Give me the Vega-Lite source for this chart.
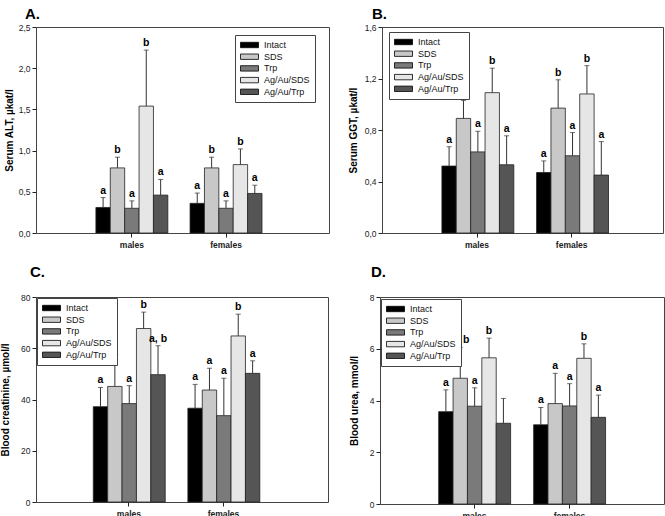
{
  "$schema": "https://vega.github.io/schema/vega-lite/v6.json",
  "padding": {"left": 0, "top": 6, "right": 0, "bottom": 0},
  "config": {
    "font": "Liberation Sans",
    "view": {"stroke": "#444", "strokeWidth": 1},
    "axis": {"grid": false, "domain": false, "tickColor": "#222", "labelColor": "#222", "titleColor": "#000", "labelFont": "Liberation Sans", "titleFont": "Liberation Sans", "labelOverlap": false},
    "title": {"font": "Liberation Sans", "fontSize": 15, "fontWeight": "bold", "anchor": "start", "frame": "group", "color": "#000"},
    "legend": {"title": null, "orient": "none", "symbolType": "M-1,-0.6H3V0.6H-1Z", "symbolSize": 81, "symbolStrokeColor": "#000", "symbolStrokeWidth": 0.8, "labelFontSize": 9, "labelOffset": 14, "rowPadding": 1.7, "padding": 5, "strokeColor": "#444", "fillColor": "#fff", "labelColor": "#111", "symbolOpacity": 1}
  },
  "datasets": {
    "d": [
      {"panel": "A", "sex": "males", "group": "Intact", "value": 0.31, "upper": 0.43, "lab": "a"},
      {"panel": "A", "sex": "males", "group": "SDS", "value": 0.79, "upper": 0.92, "lab": "b"},
      {"panel": "A", "sex": "males", "group": "Trp", "value": 0.30, "upper": 0.39, "lab": "a"},
      {"panel": "A", "sex": "males", "group": "Ag/Au/SDS", "value": 1.54, "upper": 2.22, "lab": "b"},
      {"panel": "A", "sex": "males", "group": "Ag/Au/Trp", "value": 0.46, "upper": 0.65, "lab": "a"},
      {"panel": "A", "sex": "females", "group": "Intact", "value": 0.36, "upper": 0.485, "lab": "a"},
      {"panel": "A", "sex": "females", "group": "SDS", "value": 0.79, "upper": 0.92, "lab": "b"},
      {"panel": "A", "sex": "females", "group": "Trp", "value": 0.30, "upper": 0.39, "lab": "a"},
      {"panel": "A", "sex": "females", "group": "Ag/Au/SDS", "value": 0.83, "upper": 1.02, "lab": "b"},
      {"panel": "A", "sex": "females", "group": "Ag/Au/Trp", "value": 0.48, "upper": 0.58, "lab": "a"},
      {"panel": "B", "sex": "males", "group": "Intact", "value": 0.52, "upper": 0.67, "lab": "a"},
      {"panel": "B", "sex": "males", "group": "SDS", "value": 0.89, "upper": 1.03, "lab": "b"},
      {"panel": "B", "sex": "males", "group": "Trp", "value": 0.63, "upper": 0.79, "lab": "a"},
      {"panel": "B", "sex": "males", "group": "Ag/Au/SDS", "value": 1.09, "upper": 1.28, "lab": "b"},
      {"panel": "B", "sex": "males", "group": "Ag/Au/Trp", "value": 0.53, "upper": 0.755, "lab": "a"},
      {"panel": "B", "sex": "females", "group": "Intact", "value": 0.47, "upper": 0.56, "lab": "a"},
      {"panel": "B", "sex": "females", "group": "SDS", "value": 0.97, "upper": 1.19, "lab": "b"},
      {"panel": "B", "sex": "females", "group": "Trp", "value": 0.60, "upper": 0.78, "lab": "a"},
      {"panel": "B", "sex": "females", "group": "Ag/Au/SDS", "value": 1.08, "upper": 1.30, "lab": "b"},
      {"panel": "B", "sex": "females", "group": "Ag/Au/Trp", "value": 0.45, "upper": 0.71, "lab": "a"},
      {"panel": "C", "sex": "males", "group": "Intact", "value": 37.2, "upper": 44.7, "lab": "a"},
      {"panel": "C", "sex": "males", "group": "SDS", "value": 45.1, "upper": 55.7, "lab": "a"},
      {"panel": "C", "sex": "males", "group": "Trp", "value": 38.4, "upper": 45.4, "lab": "a"},
      {"panel": "C", "sex": "males", "group": "Ag/Au/SDS", "value": 67.7, "upper": 74.1, "lab": "b"},
      {"panel": "C", "sex": "males", "group": "Ag/Au/Trp", "value": 49.7, "upper": 61.0, "lab": "a, b"},
      {"panel": "C", "sex": "females", "group": "Intact", "value": 36.6, "upper": 45.9, "lab": "a"},
      {"panel": "C", "sex": "females", "group": "SDS", "value": 43.7, "upper": 52.2, "lab": "a"},
      {"panel": "C", "sex": "females", "group": "Trp", "value": 33.7, "upper": 48.3, "lab": "a"},
      {"panel": "C", "sex": "females", "group": "Ag/Au/SDS", "value": 64.8, "upper": 73.3, "lab": "b"},
      {"panel": "C", "sex": "females", "group": "Ag/Au/Trp", "value": 50.2, "upper": 55.1, "lab": "a"},
      {"panel": "D", "sex": "males", "group": "Intact", "value": 3.57, "upper": 4.41, "lab": "a"},
      {"panel": "D", "sex": "males", "group": "SDS", "value": 4.86, "upper": 6.05, "lab": "a, b"},
      {"panel": "D", "sex": "males", "group": "Trp", "value": 3.78, "upper": 4.49, "lab": "a"},
      {"panel": "D", "sex": "males", "group": "Ag/Au/SDS", "value": 5.65, "upper": 6.41, "lab": "b"},
      {"panel": "D", "sex": "males", "group": "Ag/Au/Trp", "value": 3.12, "upper": 4.08, "lab": ""},
      {"panel": "D", "sex": "females", "group": "Intact", "value": 3.06, "upper": 3.73, "lab": "a"},
      {"panel": "D", "sex": "females", "group": "SDS", "value": 3.88, "upper": 5.05, "lab": "a"},
      {"panel": "D", "sex": "females", "group": "Trp", "value": 3.79, "upper": 4.65, "lab": "a"},
      {"panel": "D", "sex": "females", "group": "Ag/Au/SDS", "value": 5.63, "upper": 6.19, "lab": "b"},
      {"panel": "D", "sex": "females", "group": "Ag/Au/Trp", "value": 3.35, "upper": 4.21, "lab": "a"}
    ]
  },
  "data": {"name": "d"},
  "resolve": {"scale": {"fill": "independent"}, "legend": {"fill": "independent"}},
  "spacing": 15,
  "vconcat": [
    {
      "spacing": 17,
      "resolve": {"scale": {"fill": "independent"}, "legend": {"fill": "independent"}},
      "hconcat": [
        {
          "width": 293, "height": 206,
          "title": {"text": "A.", "dx": -11, "offset": 1},
          "transform": [{"filter": "datum.panel == 'A'"}],
          "encoding": {
            "x": {"field": "sex", "type": "nominal", "sort": ["males", "females"], "scale": {"paddingInner": 0.236, "paddingOuter": 0.674, "align": 0.472}, "axis": {"title": null, "labelAngle": 0, "labelFontWeight": "bold", "labelFontSize": 8.5, "tickSize": 4, "labelPadding": 3}},
            "xOffset": {"field": "group", "type": "nominal", "sort": ["Intact", "SDS", "Trp", "Ag/Au/SDS", "Ag/Au/Trp"], "scale": {"paddingInner": 0, "paddingOuter": 0}}
          },
          "layer": [
            {"mark": {"type": "bar", "stroke": "#222", "strokeWidth": 0.8},
             "encoding": {
               "y": {"field": "value", "type": "quantitative", "scale": {"domain": [0, 2.5], "nice": false}, "axis": {"title": "Serum ALT, µkat/l", "titleFontWeight": "bold", "titleFontSize": 10, "titlePadding": 4, "values": [0, 0.5, 1, 1.5, 2, 2.5], "labelExpr": "replace(format(datum.value, '.1f'), '.', ',')", "labelFontSize": 8.5, "tickSize": 4}},
               "fill": {"field": "group", "type": "nominal", "sort": ["Intact", "SDS", "Trp", "Ag/Au/SDS", "Ag/Au/Trp"], "scale": {"domain": ["Intact", "SDS", "Trp", "Ag/Au/SDS", "Ag/Au/Trp"], "range": ["#000000", "#c8c8c8", "#7a7a7a", "#e6e6e6", "#555555"]},
                 "legend": {"legendX": 199, "legendY": 8}}
             }},
            {"mark": {"type": "rule", "color": "#333", "strokeWidth": 1}, "encoding": {"y": {"field": "value", "type": "quantitative"}, "y2": {"field": "upper"}}},
            {"mark": {"type": "tick", "color": "#333", "size": 5, "thickness": 1}, "encoding": {"y": {"field": "upper", "type": "quantitative"}}},
            {"mark": {"type": "text", "fontWeight": "bold", "fontSize": 10.5, "dy": -4, "baseline": "alphabetic", "color": "#000"}, "encoding": {"y": {"field": "upper", "type": "quantitative"}, "text": {"field": "lab"}}}
          ]
        },
        {
          "width": 281, "height": 206,
          "title": {"text": "B.", "dx": -10, "offset": 1},
          "transform": [{"filter": "datum.panel == 'B'"}],
          "encoding": {
            "x": {"field": "sex", "type": "nominal", "sort": ["males", "females"], "scale": {"paddingInner": 0.258, "paddingOuter": 0.613, "align": 0.516}, "axis": {"title": null, "labelAngle": 0, "labelFontWeight": "bold", "labelFontSize": 8.5, "tickSize": 4, "labelPadding": 3}},
            "xOffset": {"field": "group", "type": "nominal", "sort": ["Intact", "SDS", "Trp", "Ag/Au/SDS", "Ag/Au/Trp"], "scale": {"paddingInner": 0, "paddingOuter": 0}}
          },
          "layer": [
            {"mark": {"type": "bar", "stroke": "#222", "strokeWidth": 0.8},
             "encoding": {
               "y": {"field": "value", "type": "quantitative", "scale": {"domain": [0, 1.6], "nice": false}, "axis": {"title": "Serum GGT, µkat/l", "titleFontWeight": "bold", "titleFontSize": 10, "titlePadding": 6, "values": [0, 0.2, 0.4, 0.6, 0.8, 1, 1.2, 1.4, 1.6], "labelExpr": "replace(format(datum.value, '.1f'), '.', ',')", "labelFontSize": 8.5, "tickSize": 4}},
               "fill": {"field": "group", "type": "nominal", "sort": ["Intact", "SDS", "Trp", "Ag/Au/SDS", "Ag/Au/Trp"], "scale": {"domain": ["Intact", "SDS", "Trp", "Ag/Au/SDS", "Ag/Au/Trp"], "range": ["#000000", "#c8c8c8", "#7a7a7a", "#e6e6e6", "#555555"]},
                 "legend": {"legendX": 7, "legendY": 5}}
             }},
            {"mark": {"type": "rule", "color": "#333", "strokeWidth": 1}, "encoding": {"y": {"field": "value", "type": "quantitative"}, "y2": {"field": "upper"}}},
            {"mark": {"type": "tick", "color": "#333", "size": 5, "thickness": 1}, "encoding": {"y": {"field": "upper", "type": "quantitative"}}},
            {"mark": {"type": "text", "fontWeight": "bold", "fontSize": 10.5, "dy": -4, "baseline": "alphabetic", "color": "#000"}, "encoding": {"y": {"field": "upper", "type": "quantitative"}, "text": {"field": "lab"}}}
          ]
        }
      ]
    },
    {
      "spacing": 19,
      "resolve": {"scale": {"fill": "independent"}, "legend": {"fill": "independent"}},
      "hconcat": [
        {
          "width": 292, "height": 205,
          "title": {"text": "C.", "dx": -6, "offset": 13},
          "transform": [{"filter": "datum.panel == 'C'"}],
          "encoding": {
            "x": {"field": "sex", "type": "nominal", "sort": ["males", "females"], "scale": {"paddingInner": 0.247, "paddingOuter": 0.667, "align": 0.454}, "axis": {"title": null, "labelAngle": 0, "labelFontWeight": "bold", "labelFontSize": 8.5, "tickSize": 4, "labelPadding": 3}},
            "xOffset": {"field": "group", "type": "nominal", "sort": ["Intact", "SDS", "Trp", "Ag/Au/SDS", "Ag/Au/Trp"], "scale": {"paddingInner": 0, "paddingOuter": 0}}
          },
          "layer": [
            {"mark": {"type": "bar", "stroke": "#222", "strokeWidth": 0.8},
             "encoding": {
               "y": {"field": "value", "type": "quantitative", "scale": {"domain": [0, 80], "nice": false}, "axis": {"title": "Blood creatinine, µmol/l", "titleFontWeight": "bold", "titleFontSize": 10, "titlePadding": 10, "values": [0, 20, 40, 60, 80], "labelFontSize": 8.5, "tickSize": 4}},
               "fill": {"field": "group", "type": "nominal", "sort": ["Intact", "SDS", "Trp", "Ag/Au/SDS", "Ag/Au/Trp"], "scale": {"domain": ["Intact", "SDS", "Trp", "Ag/Au/SDS", "Ag/Au/Trp"], "range": ["#000000", "#c8c8c8", "#7a7a7a", "#e6e6e6", "#555555"]},
                 "legend": {"legendX": 1, "legendY": 1}}
             }},
            {"mark": {"type": "rule", "color": "#333", "strokeWidth": 1}, "encoding": {"y": {"field": "value", "type": "quantitative"}, "y2": {"field": "upper"}}},
            {"mark": {"type": "tick", "color": "#333", "size": 5, "thickness": 1}, "encoding": {"y": {"field": "upper", "type": "quantitative"}}},
            {"mark": {"type": "text", "fontWeight": "bold", "fontSize": 10.5, "dy": -4, "baseline": "alphabetic", "color": "#000"}, "encoding": {"y": {"field": "upper", "type": "quantitative"}, "text": {"field": "lab"}}}
          ]
        },
        {
          "width": 284, "height": 207,
          "title": {"text": "D.", "dx": -9, "offset": 13},
          "transform": [{"filter": "datum.panel == 'D'"}],
          "encoding": {
            "x": {"field": "sex", "type": "nominal", "sort": ["males", "females"], "scale": {"paddingInner": 0.245, "paddingOuter": 0.618, "align": 0.5}, "axis": {"title": null, "labelAngle": 0, "labelFontWeight": "bold", "labelFontSize": 8.5, "tickSize": 4, "labelPadding": 3}},
            "xOffset": {"field": "group", "type": "nominal", "sort": ["Intact", "SDS", "Trp", "Ag/Au/SDS", "Ag/Au/Trp"], "scale": {"paddingInner": 0, "paddingOuter": 0}}
          },
          "layer": [
            {"mark": {"type": "bar", "stroke": "#222", "strokeWidth": 0.8},
             "encoding": {
               "y": {"field": "value", "type": "quantitative", "scale": {"domain": [0, 8], "nice": false}, "axis": {"title": "Blood urea, mmol/l", "titleFontWeight": "bold", "titleFontSize": 10, "titlePadding": 10, "values": [0, 2, 4, 6, 8], "labelFontSize": 8.5, "tickSize": 4}},
               "fill": {"field": "group", "type": "nominal", "sort": ["Intact", "SDS", "Trp", "Ag/Au/SDS", "Ag/Au/Trp"], "scale": {"domain": ["Intact", "SDS", "Trp", "Ag/Au/SDS", "Ag/Au/Trp"], "range": ["#000000", "#c8c8c8", "#7a7a7a", "#e6e6e6", "#555555"]},
                 "legend": {"legendX": 1, "legendY": 2}}
             }},
            {"mark": {"type": "rule", "color": "#333", "strokeWidth": 1}, "encoding": {"y": {"field": "value", "type": "quantitative"}, "y2": {"field": "upper"}}},
            {"mark": {"type": "tick", "color": "#333", "size": 5, "thickness": 1}, "encoding": {"y": {"field": "upper", "type": "quantitative"}}},
            {"mark": {"type": "text", "fontWeight": "bold", "fontSize": 10.5, "dy": -4, "baseline": "alphabetic", "color": "#000"}, "encoding": {"y": {"field": "upper", "type": "quantitative"}, "text": {"field": "lab"}}}
          ]
        }
      ]
    }
  ]
}
